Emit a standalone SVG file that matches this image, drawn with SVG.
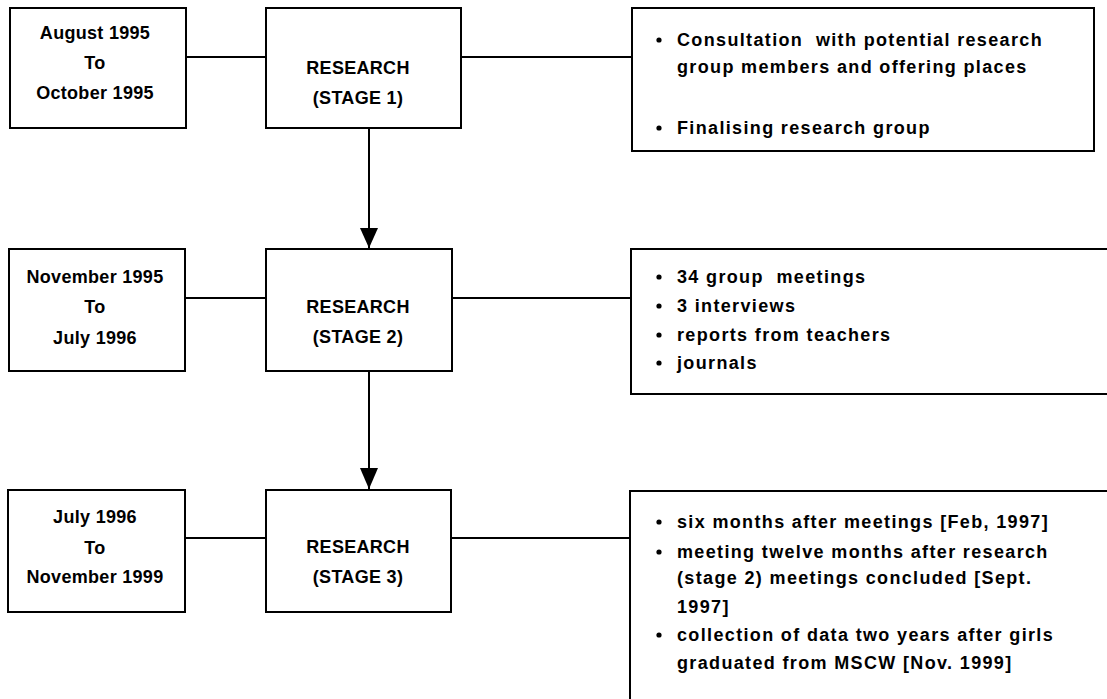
<svg xmlns="http://www.w3.org/2000/svg" width="1107" height="699" viewBox="0 0 1107 699">
  <style>
    .box { fill: #fff; stroke: #000; stroke-width: 2; }
    .link { stroke: #000; stroke-width: 2; fill: none; }
    text { font-family: "Comic Sans MS", "Liberation Sans", sans-serif; font-size: 18px; font-weight: bold; fill: #000; white-space: pre; letter-spacing: 0.3px; }
    .c { text-anchor: middle; }
    .n { letter-spacing: 1.35px; }
  </style>

  <rect width="1107" height="699" fill="#fff"/>

  <g id="connectors">
    <line class="link" x1="186" y1="57" x2="266" y2="57"/>
    <line class="link" x1="461" y1="57" x2="632" y2="57"/>
    <line class="link" x1="185" y1="298" x2="266" y2="298"/>
    <line class="link" x1="452" y1="298" x2="631" y2="298"/>
    <line class="link" x1="185" y1="538" x2="266" y2="538"/>
    <line class="link" x1="451" y1="538" x2="630" y2="538"/>
    <path d="M369,128 V248" class="link"/>
    <path d="M360,228 L378,228 L369,248 Z" fill="#000"/>
    <path d="M369,371 V489" class="link"/>
    <path d="M360,468 L378,468 L369,489 Z" fill="#000"/>
  </g>

  <!-- row 1 -->
  <g id="period1">
    <rect class="box" x="10" y="8" width="176" height="120"/>
    <text class="c" x="95" y="39">August 1995</text>
    <text class="c" x="95" y="69">To</text>
    <text class="c" x="95" y="99">October 1995</text>
  </g>
  <g id="stage1">
    <rect class="box" x="266" y="8" width="195" height="120"/>
    <text class="c" x="358" y="74">RESEARCH</text>
    <text class="c" x="358" y="104">(STAGE 1)</text>
  </g>
  <g id="notes1">
    <rect class="box" x="632" y="8" width="462" height="143"/>
    <circle cx="659" cy="40" r="2.6"/>
    <text class="n" x="677" y="46">Consultation  with potential research</text>
    <text class="n" x="677" y="73">group members and offering places</text>
    <circle cx="659" cy="128" r="2.6"/>
    <text class="n" x="677" y="134">Finalising research group</text>
  </g>

  <!-- row 2 -->
  <g id="period2">
    <rect class="box" x="9" y="249" width="176" height="122"/>
    <text class="c" x="95" y="283">November 1995</text>
    <text class="c" x="95" y="313">To</text>
    <text class="c" x="95" y="344">July 1996</text>
  </g>
  <g id="stage2">
    <rect class="box" x="266" y="249" width="186" height="122"/>
    <text class="c" x="358" y="313">RESEARCH</text>
    <text class="c" x="358" y="343">(STAGE 2)</text>
  </g>
  <g id="notes2">
    <rect class="box" x="631" y="249" width="490" height="145"/>
    <circle cx="659" cy="277" r="2.6"/>
    <text class="n" x="677" y="283">34 group  meetings</text>
    <circle cx="659" cy="306" r="2.6"/>
    <text class="n" x="677" y="312">3 interviews</text>
    <circle cx="659" cy="335" r="2.6"/>
    <text class="n" x="677" y="341">reports from teachers</text>
    <circle cx="659" cy="363" r="2.6"/>
    <text class="n" x="677" y="369">journals</text>
  </g>

  <!-- row 3 -->
  <g id="period3">
    <rect class="box" x="8" y="490" width="177" height="122"/>
    <text class="c" x="95" y="523">July 1996</text>
    <text class="c" x="95" y="554">To</text>
    <text class="c" x="95" y="583">November 1999</text>
  </g>
  <g id="stage3">
    <rect class="box" x="266" y="490" width="185" height="122"/>
    <text class="c" x="358" y="553">RESEARCH</text>
    <text class="c" x="358" y="583">(STAGE 3)</text>
  </g>
  <g id="notes3">
    <rect class="box" x="630" y="491" width="500" height="230"/>
    <circle cx="659" cy="522" r="2.6"/>
    <text class="n" x="677" y="528">six months after meetings [Feb, 1997]</text>
    <circle cx="659" cy="552" r="2.6"/>
    <text class="n" x="677" y="558">meeting twelve months after research</text>
    <text class="n" x="677" y="584">(stage 2) meetings concluded [Sept.</text>
    <text class="n" x="677" y="613">1997]</text>
    <circle cx="659" cy="635" r="2.6"/>
    <text class="n" x="677" y="641">collection of data two years after girls</text>
    <text class="n" x="677" y="669">graduated from MSCW [Nov. 1999]</text>
  </g>
</svg>
